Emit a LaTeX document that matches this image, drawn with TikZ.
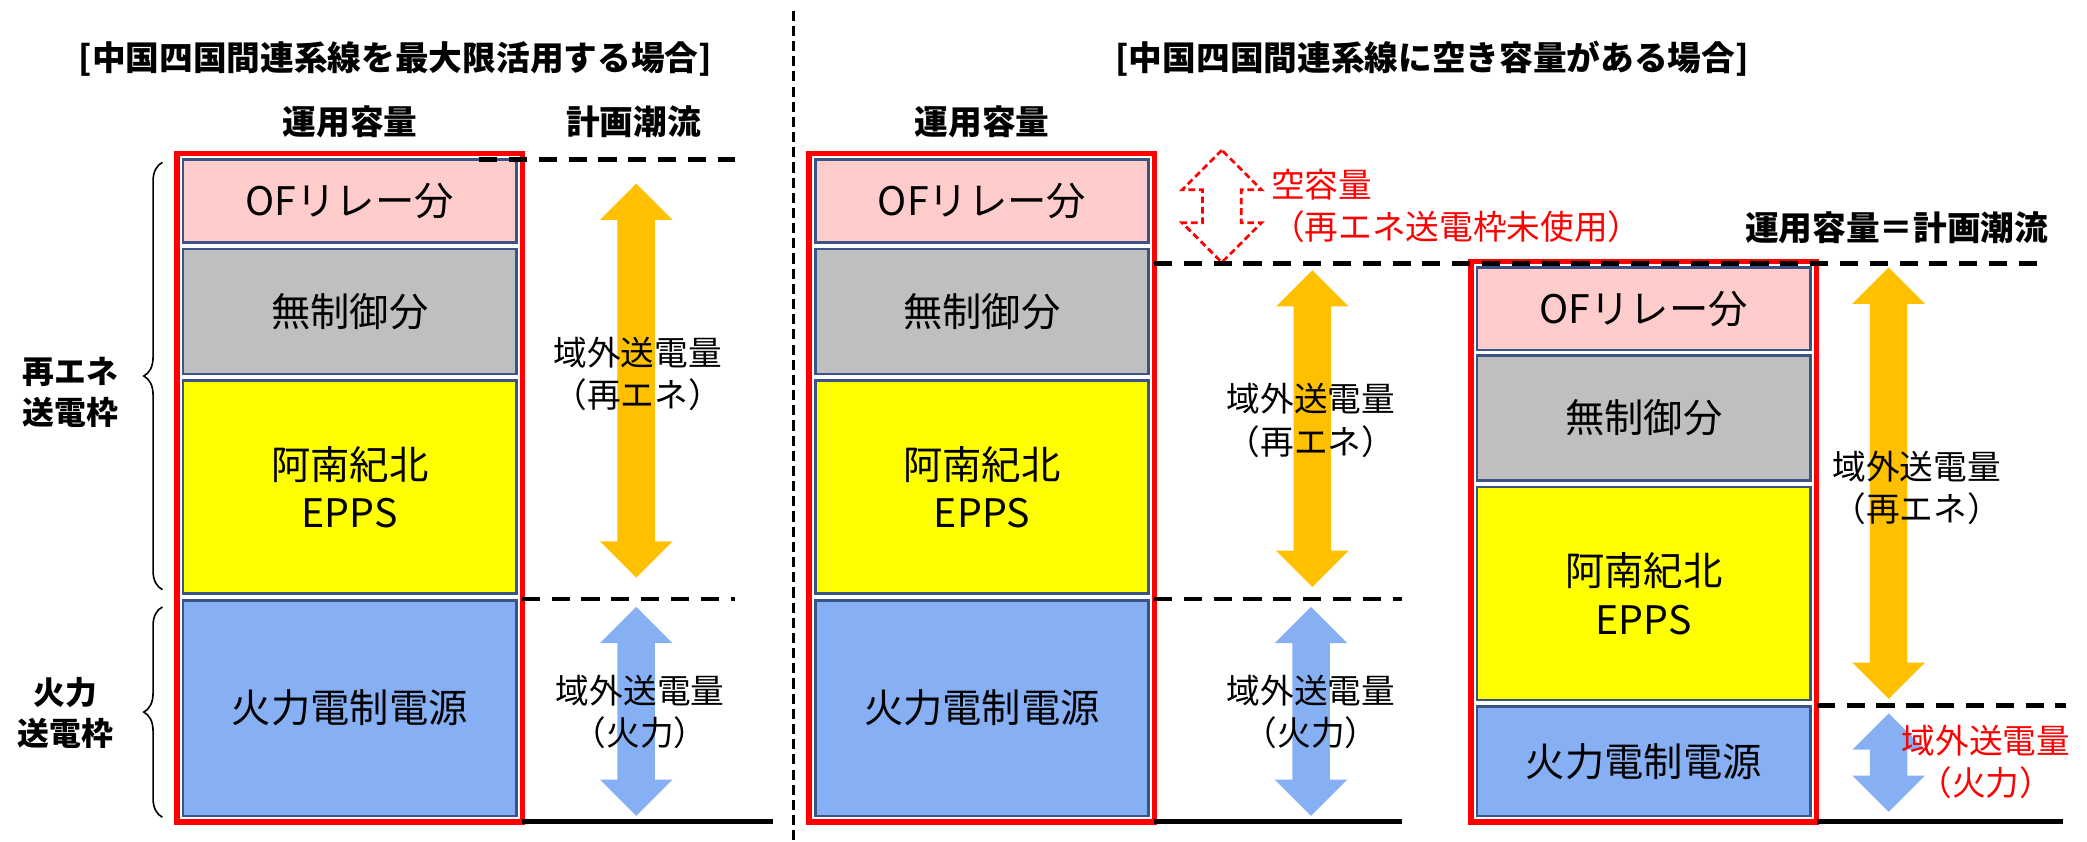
\documentclass[tikz,border=0pt]{standalone}
\usepackage{fontspec}
\setmainfont{Noto Sans CJK JP}
\usetikzlibrary{shapes.arrows,fit,decorations.pathreplacing}
\definecolor{ofpink}{HTML}{FFCCCC}
\definecolor{nogray}{HTML}{BFBFBF}
\definecolor{eppsyellow}{HTML}{FFFF00}
\definecolor{thermblue}{HTML}{86B0F3}
\definecolor{renorange}{HTML}{FFC000}
\definecolor{boxedge}{HTML}{3B5387}
\definecolor{capred}{HTML}{FF0000}
\tikzset{
  stackbox/.style={
    draw=boxedge,
    line width=0.5mm,
    minimum width=62.6mm,
    inner sep=0pt,
    align=center,
    font=\fontsize{21}{26}\selectfont
  },
  capframe/.style={
    draw=capred,
    line width=1mm,
    inner sep=0.9mm
  },
  flowarrow/.style={
    double arrow,
    rotate=90,
    draw=none,
    inner xsep=0pt,
    inner ysep=3.45mm,
    double arrow head extend=3.3mm,
    double arrow tip angle=90
  },
  sparearrow/.style={
    flowarrow,
    draw=capred,
    line width=0.5mm,
    dash pattern=on 1.25mm off 0.7mm,
    inner ysep=3.4mm,
    double arrow head extend=3.8mm
  },
  flowlabel/.style={
    align=center,
    font=\fontsize{18}{22.7}\selectfont
  },
  headlabel/.style={font=\bfseries\fontsize{18}{22}\selectfont},
  sidelabel/.style={align=center, font=\bfseries\fontsize{17}{22}\selectfont},
  refline/.style={dash pattern=on 3.4mm off 2.2mm, line width=0.85mm},
  groundline/.style={line width=0.95mm},
  sidebrace/.style={decorate, decoration={brace, amplitude=3.5mm}, line width=0.3mm}
}
\begin{document}
\begin{tikzpicture}[x=0.025cm, y=-0.025cm]
  \useasboundingbox (0,0) rectangle (1568,632);

  % titles
  \node[headlabel] (ltitle) at (297,44) {[中国四国間連系線を最大限活用する場合]};
  \node[headlabel] (rtitle) at (1076,44) {[中国四国間連系線に空き容量がある場合]};
  \node[headlabel] (lcaph) at (263,91.5) {運用容量};
  \node[headlabel] (lplan) at (476,91.5) {計画潮流};
  \node[headlabel] (mcaph) at (738,91.5) {運用容量};
  \node[headlabel] (eqcap) at (1425,171) {運用容量＝計画潮流};

  % divider
  \coordinate (dtop) at (596,8);
  \coordinate (dbot) at (596,632);
  \draw[dash pattern=on 1.9mm off 0.95mm, line width=0.6mm] (dtop) -- (dbot);

  % left: full use
  \node[stackbox, fill=ofpink, minimum height=15.5mm] (lof) at (262.75,151) {OFリレー分};
  \node[stackbox, fill=nogray, minimum height=23.5mm] (lnc) at (262.75,234) {無制御分};
  \node[stackbox, fill=eppsyellow, minimum height=40mm] (lep) at (262.75,366) {阿南紀北\\EPPS};
  \node[stackbox, fill=thermblue, minimum height=40.5mm] (lth) at (262.75,532) {火力電制電源};
  \node[capframe, fit=(lof)(lth)] (lcap) {};

  \node[flowarrow, fill=renorange, minimum height=74mm] (lren) at (478,286) {};
  \node[flowarrow, fill=thermblue, minimum height=39.25mm] (lthr) at (478,534.5) {};
  \node[flowlabel] (lrenl) at (479,281) {域外送電量\\（再エネ）};
  \node[flowlabel] (lthl) at (481,535) {域外送電量\\（火力）};

  \draw[sidebrace] (122,443) -- (122,122);
  \draw[sidebrace] (122,614) -- (122,456);
  \node[sidelabel] (renframe) at (53,295) {再エネ\\送電枠};
  \node[sidelabel] (thframe) at (49,535.5) {火力\\送電枠};

  \coordinate (lt0) at (360,120);
  \coordinate (lt1) at (552,120);
  \coordinate (lm0) at (392,450);
  \coordinate (lm1) at (552,450);
  \coordinate (lb0) at (392,617);
  \coordinate (lb1) at (581,617);
  \draw[refline] (lt0) -- (lt1);
  \draw[refline] (lm0) -- (lm1);
  \draw[groundline] (lb0) -- (lb1);

  % right: spare capacity
  \node[stackbox, fill=ofpink, minimum height=15.5mm] (mof) at (737.75,151) {OFリレー分};
  \node[stackbox, fill=nogray, minimum height=23.5mm] (mnc) at (737.75,234) {無制御分};
  \node[stackbox, fill=eppsyellow, minimum height=40mm] (mep) at (737.75,366) {阿南紀北\\EPPS};
  \node[stackbox, fill=thermblue, minimum height=40.5mm] (mth) at (737.75,532) {火力電制電源};
  \node[capframe, fit=(mof)(mth)] (mcap) {};

  \node[sparearrow] (spare) at (918,155) [minimum height=21.1mm] {};
  \node[flowlabel, text=capred, anchor=west] (sparel) at (950,139) {空容量};
  \node[flowlabel, text=capred, anchor=west] (sparenote) at (950,170) {（再エネ送電枠未使用）};

  \node[flowarrow, fill=renorange, minimum height=59.5mm] (mren) at (986,322) {};
  \node[flowarrow, fill=thermblue, minimum height=39.25mm] (mthr) at (985,534.5) {};
  \node[flowlabel] (mrenl) at (985,316) {域外送電量\\（再エネ）};
  \node[flowlabel] (mthl) at (985,535) {域外送電量\\（火力）};

  \node[stackbox, fill=ofpink, minimum height=15.5mm] (rof) at (1235,232) {OFリレー分};
  \node[stackbox, fill=nogray, minimum height=23.5mm] (rnc) at (1235,314) {無制御分};
  \node[stackbox, fill=eppsyellow, minimum height=40mm] (rep) at (1235,446) {阿南紀北\\EPPS};
  \node[stackbox, fill=thermblue, minimum height=20.5mm] (rth) at (1235,572) {火力電制電源};
  \node[capframe, fit=(rof)(rth)] (rcap) {};

  \node[flowarrow, fill=renorange, minimum height=81mm] (rren) at (1419,363) {};
  \node[flowarrow, fill=thermblue, minimum height=18.5mm] (rthr) at (1419,573) {};
  \node[flowlabel] (rrenl) at (1440,366.5) {域外送電量\\（再エネ）};
  \node[flowlabel, text=capred] (rthl) at (1492,572.5) {域外送電量\\（火力）};

  \coordinate (mt0) at (867,198);
  \coordinate (mt1) at (1539,198);
  \coordinate (mm0) at (867,450);
  \coordinate (mm1) at (1053,450);
  \coordinate (mb0) at (867,617);
  \coordinate (mb1) at (1053,617);
  \coordinate (rm0) at (1365,530);
  \coordinate (rm1) at (1552,530);
  \coordinate (rb0) at (1365,617.5);
  \coordinate (rb1) at (1550,617.5);
  \draw[refline] (mt0) -- (mt1);
  \draw[refline] (mm0) -- (mm1);
  \draw[groundline] (mb0) -- (mb1);
  \draw[refline] (rm0) -- (rm1);
  \draw[groundline] (rb0) -- (rb1);
\end{tikzpicture}
\end{document}
